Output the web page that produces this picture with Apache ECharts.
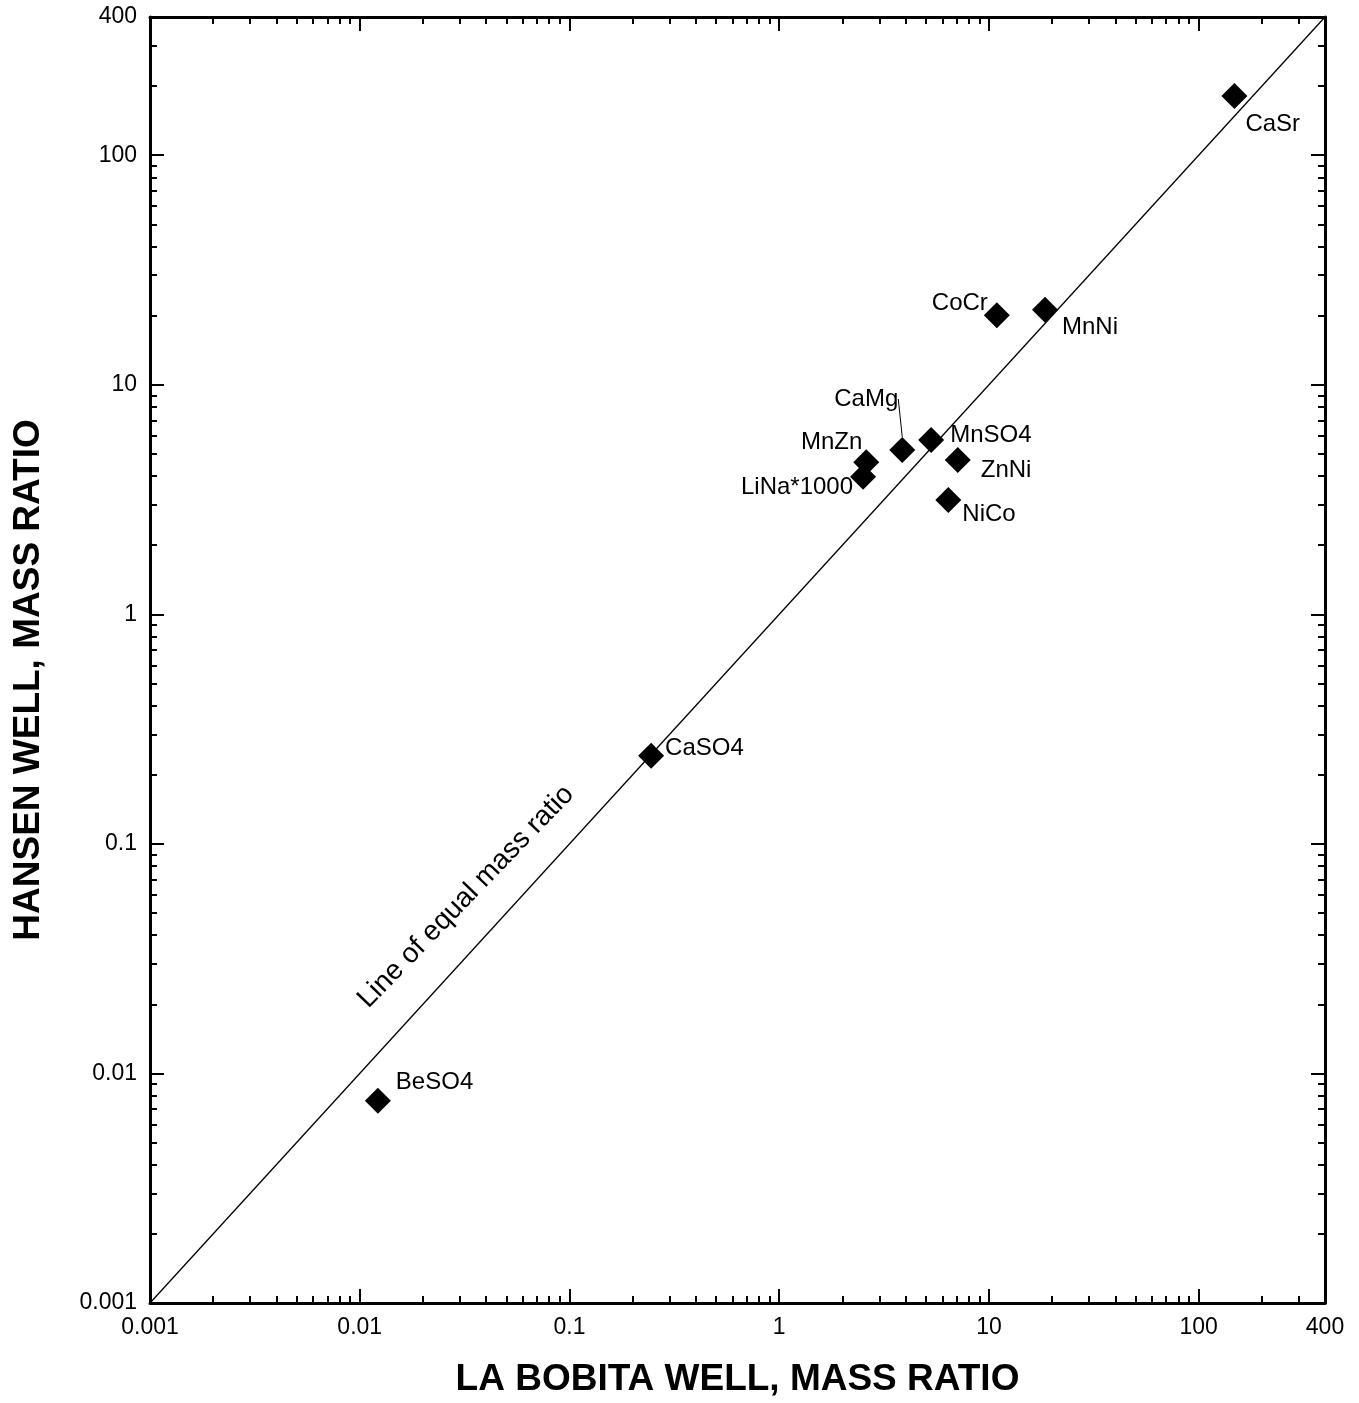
<!DOCTYPE html>
<html><head><meta charset="utf-8">
<script src="https://cdn.jsdelivr.net/npm/echarts@6/dist/echarts.min.js"></script>
<style>html,body{margin:0;padding:0;background:#fff}#c{width:1359px;height:1403px}</style>
</head><body><div id="c"></div>
<script>
// ---- data ----
const names = ['CaSr','MnNi','CoCr','CaMg','MnSO4','ZnNi','NiCo','MnZn','LiNa*1000','CaSO4','BeSO4'];
const laBobita = [148, 18.5, 10.9, 3.86, 5.3, 7.1, 6.4, 2.6, 2.51, 0.245, 0.0122];
const hansen   = [181, 21.2, 20.1, 5.2, 5.75, 4.7, 3.15, 4.6, 3.97, 0.242, 0.0076];
const axisRange = [0.001, 400];
const minorTickValues = [0.002,0.003,0.004,0.005,0.006,0.007,0.008,0.009,
  0.02,0.03,0.04,0.05,0.06,0.07,0.08,0.09,
  0.2,0.3,0.4,0.5,0.6,0.7,0.8,0.9,
  2,3,4,5,6,7,8,9,
  20,30,40,50,60,70,80,90,
  200,300];
const equalLine = [[0.001,0.001],[400,400]];
const equalLabelText = 'Line of equal mass ratio';
const equalLabelAt = [0.0321, 0.0588];

// ---- label placement (pixel offsets from marker centre) ----
const labelPlace = {
  'CaSr':[11,28,'left'], 'MnNi':[17,18,'left'], 'CoCr':[-9,-12,'right'],
  'CaMg':[-4,-51,'right'], 'MnSO4':[19,-5,'left'], 'ZnNi':[23,10,'left'],
  'NiCo':[14,14,'left'], 'MnZn':[-4,-20,'right'], 'LiNa*1000':[-10,11,'right'],
  'CaSO4':[14,-7,'left'], 'BeSO4':[18,-18,'left']
};

const font = '"Liberation Sans", Arial, Helvetica, sans-serif';
const lmin = Math.log10(axisRange[0]), lmax = Math.log10(axisRange[1]);
const fmt = v => String(Number(Number(v).toPrecision(6)));

function majorAxis(position, withLabels, extra) {
  return Object.assign({
    type:'log', logBase:10, min:axisRange[0], max:axisRange[1], position:position,
    axisLine:{show:true, onZero:false, lineStyle:{color:'#000', width:3}},
    axisTick:{show:true, inside:true, length:14, lineStyle:{color:'#000', width:2}},
    axisLabel:{show:withLabels, color:'#000', fontSize:23, fontFamily:font, margin:13,
      formatter:fmt, showMinLabel:true, showMaxLabel:true},
    splitLine:{show:false}, minorTick:{show:false}, minorSplitLine:{show:false}
  }, extra||{});
}
function minorAxis(position) {
  return {
    type:'value', min:lmin, max:lmax, position:position,
    axisLine:{show:false, onZero:false},
    axisTick:{show:true, inside:true, length:7, customValues:minorTickValues.map(Math.log10),
      lineStyle:{color:'#000', width:2}},
    axisLabel:{show:false}, splitLine:{show:false}
  };
}
const titleStyle = {fontSize:37, fontWeight:'bold', fontFamily:font, color:'#000'};

const chart = echarts.init(document.getElementById('c'), null, {renderer:'canvas'});
chart.setOption({
  animation:false,
  backgroundColor:'#fff',
  grid:{left:150, right:34, top:17, bottom:100, containLabel:false},
  xAxis:[
    majorAxis('bottom', true, {name:'LA BOBITA WELL, MASS RATIO', nameLocation:'middle', nameGap:58,
      nameTextStyle:titleStyle}),
    majorAxis('top', false),
    minorAxis('bottom'),
    minorAxis('top')
  ],
  yAxis:[
    majorAxis('left', true, {name:'HANSEN WELL, MASS RATIO', nameLocation:'middle', nameGap:103,
      nameRotate:90, nameTextStyle:Object.assign({padding:[0,40,0,0]}, titleStyle)}),
    majorAxis('right', false),
    minorAxis('left'),
    minorAxis('right')
  ],
  series:[
    {type:'line', xAxisIndex:0, yAxisIndex:0, data:equalLine, showSymbol:false, silent:true,
      lineStyle:{color:'#000', width:1.3}, z:1},
    {type:'scatter', xAxisIndex:0, yAxisIndex:0, symbol:'circle', symbolSize:1, silent:true,
      itemStyle:{color:'rgba(0,0,0,0)', opacity:1},
      data:[{value:equalLabelAt, name:equalLabelText}],
      label:{show:true, formatter:'{b}', position:'inside', rotate:46, fontSize:28,
        fontFamily:font, color:'#000', opacity:1}},
    {type:'scatter', xAxisIndex:0, yAxisIndex:0, symbol:'diamond', symbolSize:26, z:3,
      itemStyle:{color:'#000', opacity:1},
      label:{show:true, formatter:'{b}', fontSize:24, fontFamily:font, color:'#000', opacity:1},
      data:names.map((n,i)=>{
        const p = labelPlace[n];
        const item = {name:n, value:[laBobita[i], hansen[i]],
          label:{position:[13+p[0], 13+p[1]], align:p[2], verticalAlign:'middle'}};
        if (n==='CaMg') item.labelLine = {show:true, lineStyle:{color:'#000', width:1}};
        return item;
      })}
  ]
});
</script></body></html>
